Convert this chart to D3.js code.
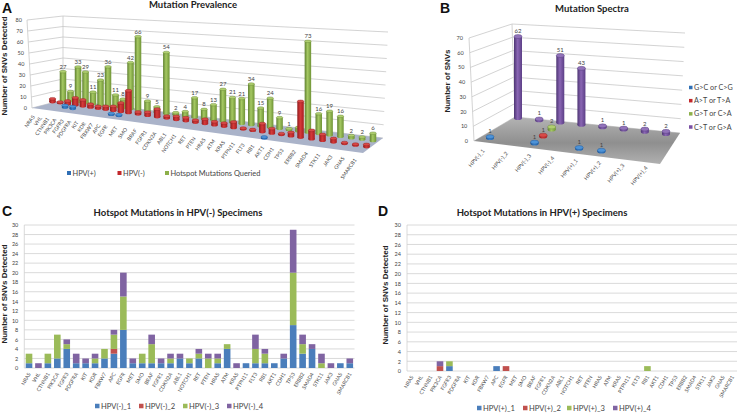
<!DOCTYPE html>
<html><head><meta charset="utf-8">
<script src="https://cdn.jsdelivr.net/npm/d3@7/dist/d3.min.js"></script>
<style>html,body{margin:0;background:#fff}svg{display:block}text{font-family:Lato,"Open Sans",sans-serif}</style>
</head><body><svg id="c" width="738" height="413"></svg>
<script>
const genes = ["NRAS","VHL","CTNNB1","PIK3CA","FGFR3","PDGFRA","KIT","KDR","FBXW7","APC","EGFR","MET","SMO","BRAF","FGFR1","CDKN2A","ABL1","NOTCH1","RET","PTEN","HRAS","ATM","KRAS","PTPN11","FLT3","RB1","AKT1","CDH1","TP53","ERBB2","SMAD4","STK11","JAK3","GNAS","SMARCB1"];
const queried = [27,9,33,29,11,23,36,11,8,42,66,9,5,54,2,4,17,8,13,27,21,21,34,15,24,9,1,3,73,16,19,16,2,2,6];
const hideQueriedLabel = ["CDH1"];
const hpvNeg1 = [1,0,1,2,4,1,1,1,2,3,8,1,1,1,1,1,2,1,2,0,1,4,0,1,1,1,1,2,9,3,4,0,0,1,1];
const hpvNeg2 = [0,0,0,0,0,0,0,0,0,1,0,0,0,0,0,0,0,0,0,0,0,0,0,0,0,0,0,0,0,0,0,0,0,0,0];
const hpvNeg3 = [2,0,2,5,1,0,0,1,2,3,7,0,2,4,0,1,0,1,1,2,1,1,0,0,3,2,0,0,11,2,0,1,0,0,0];
const hpvNeg4 = [0,1,0,0,1,2,1,1,0,1,5,1,0,2,1,1,1,0,1,1,1,0,1,0,3,1,0,1,9,2,1,2,1,0,1];
const hpvPos1 = [0,0,0,0,1,0,0,0,0,1,0,0,0,0,0,0,0,0,0,0,0,0,0,0,0,0,0,0,0,0,0,0,0,0,0];
const hpvPos2 = [0,0,0,1,0,0,0,0,0,0,1,0,0,0,0,0,0,0,0,0,0,0,0,0,0,0,0,0,0,0,0,0,0,0,0];
const hpvPos3 = [0,0,0,0,1,0,0,0,0,0,0,0,0,0,0,0,0,0,0,0,0,0,0,0,0,1,0,0,0,0,0,0,0,0,0];
const hpvPos4 = [0,0,0,1,0,0,0,0,0,0,0,0,0,0,0,0,0,0,0,0,0,0,0,0,0,0,0,0,0,0,0,0,0,0,0];
const specimens = ["HPV(-)_1","HPV(-)_2","HPV(-)_3","HPV(-)_4","HPV(+)_1","HPV(+)_2","HPV(+)_3","HPV(+)_4"];
const spectraGC = [1,0,1,0,1,1,0,0];
const spectraAT = [0,0,1,0,0,0,0,0];
const spectraGT = [0,0,2,0,0,0,0,0];
const spectraCT = [62,1,51,43,1,1,2,2];
const ticksA = [0,10,20,30,40,50,60,70,80];
const ticksB = [0,10,20,30,40,50,60,70];
const ticksStack = d3.range(0,31,2);

const cyl3d={blue:["#1f5fa8","#3f86d0","#184f8e","#4d93d8"],red:["#a81f22","#d63a3a","#8e1a1c","#d84a48"],green:["#6f9436","#a6c963","#5f8030","#b0cf70"],purple:["#5c3f86","#8a66b4","#4d3573","#9273ba"]};

const svg=d3.select("#c");
const defs=svg.append("defs");
Object.entries(cyl3d).forEach(([k,v])=>{
  const g=defs.append("linearGradient").attr("id","g-"+k);
  g.append("stop").attr("offset","0").attr("stop-color",v[2]);
  g.append("stop").attr("offset",".45").attr("stop-color",v[1]);
  g.append("stop").attr("offset","1").attr("stop-color",v[0]);
});
const fb=defs.append("linearGradient").attr("id","floorB").attr("x1",0).attr("y1",0).attr("x2",0).attr("y2",1);
fb.append("stop").attr("offset","0").attr("stop-color","#b4b4b4");
fb.append("stop").attr("offset",".55").attr("stop-color","#8f8f8f");
fb.append("stop").attr("offset","1").attr("stop-color","#b0b0b0");

function txt(x,y,s,o={}){
  const t=svg.append("text").attr("x",x).attr("y",y).text(s)
    .attr("font-size",o.size||6).attr("fill",o.fill||"#444")
    .attr("text-anchor",o.anchor||"middle");
  if(o.bold)t.attr("font-weight",700);
  if(o.family)t.style("font-family",o.family);
  if(o.rot!=null)t.attr("transform",`rotate(${o.rot} ${x} ${y})`);
  return t;
}
const ARIAL='"Liberation Sans",sans-serif';
txt(2,13,"A",{size:14,bold:true,fill:"#111",anchor:"start",family:ARIAL});
txt(440,13,"B",{size:14,bold:true,fill:"#111",anchor:"start",family:ARIAL});
txt(2,216,"C",{size:14,bold:true,fill:"#111",anchor:"start",family:ARIAL});
txt(378,216,"D",{size:14,bold:true,fill:"#111",anchor:"start",family:ARIAL});
txt(193,8,"Mutation Prevalence",{size:9.5,bold:true,fill:"#222"});
txt(592,12,"Mutation Spectra",{size:9.5,bold:true,fill:"#222"});
txt(178,216,"Hotspot Mutations in HPV(-) Specimens",{size:9.5,bold:true,fill:"#222"});
txt(542,216,"Hotspot Mutations in HPV(+) Specimens",{size:9.5,bold:true,fill:"#222"});
txt(7,66,"Number of SNVs Detected",{size:8,bold:true,fill:"#222",rot:-90,family:ARIAL});
txt(450,81,"Number of SNVs",{size:8,bold:true,fill:"#222",rot:-90,family:ARIAL});
txt(7,294,"Number of SNVs Detected",{size:8,bold:true,fill:"#222",rot:-90,family:ARIAL});
txt(388,295,"Number of SNVs Detected",{size:8,bold:true,fill:"#222",rot:-90,family:ARIAL});

function walls(ticks,vMax,L0,L1,C0,C1,R0,R1,labelDx){
  const lerp=(a,b)=>d3.scaleLinear([0,vMax],[a,b]);
  const lx=lerp(L0[0],L1[0]),ly=lerp(L0[1],L1[1]),cx=lerp(C0[0],C1[0]),cy=lerp(C0[1],C1[1]),rx=lerp(R0[0],R1[0]),ry=lerp(R0[1],R1[1]);
  const line=d3.line();
  ticks.forEach(v=>{
    svg.append("path").attr("d",line([[lx(v),ly(v)],[cx(v),cy(v)],[rx(v),ry(v)]])).attr("fill","none").attr("stroke","#c8c8c8").attr("stroke-width",.8);
    txt(lx(v)-labelDx,ly(v)+2,v,{size:5.5,anchor:"end"});
  });
  svg.append("path").attr("d",line([[L0[0],L0[1]],[L1[0],L1[1]]])).attr("stroke","#c8c8c8").attr("stroke-width",.8);
  svg.append("path").attr("d",line([[C0[0],C0[1]],[C1[0],C1[1]]])).attr("stroke","#c8c8c8").attr("stroke-width",.8);
}
function cylinder(x,y,h,w,ry,k){
  const g=svg.append("g"),c=cyl3d[k];
  g.append("ellipse").attr("cx",x).attr("cy",y).attr("rx",w/2).attr("ry",ry).attr("fill",`url(#g-${k})`);
  g.append("rect").attr("x",x-w/2).attr("y",y-h).attr("width",w).attr("height",h).attr("fill",`url(#g-${k})`);
  g.append("ellipse").attr("cx",x).attr("cy",y-h).attr("rx",w/2).attr("ry",ry).attr("fill",c[3]).attr("stroke",c[2]).attr("stroke-width",.4);
}

/* ---------- Panel A ---------- */
walls(ticksA,80,[32,108],[27,20],[63,100],[63,16],[383,138],[388,32],5);
svg.append("path").attr("d",d3.line()([[32,108],[63,100],[383,138],[363,153]])+"Z").attr("fill","#aab3c9");
const iA=d3.scaleLinear([0,10,28,34],[0,.242,.79,1]);
const nearX=d3.scaleLinear([0,1],[42,360]),farX=d3.scaleLinear([0,1],[63,373]);
const nearY=d3.scaleLinear([0,1],[104,153]),farY=d3.scaleLinear([0,1],[100,141]);
const hA=d3.scaleLinear([0,1],[1.05,1.3]);
function posA(i,d){const t=iA(i);return [nearX(t)+(farX(t)-nearX(t))*d,nearY(t)+(farY(t)-nearY(t))*d];}
genes.forEach((g,i)=>{
  const [x,y]=posA(i,1),h=queried[i]*hA(iA(i));
  cylinder(x,y,h,6.5,1.3,"green");
  if(!hideQueriedLabel.includes(g))txt(x,y-h-3,queried[i]);
});
const negTotal=genes.map((_,i)=>hpvNeg1[i]+hpvNeg2[i]+hpvNeg3[i]+hpvNeg4[i]);
const posTotal=genes.map((_,i)=>hpvPos1[i]+hpvPos2[i]+hpvPos3[i]+hpvPos4[i]);
genes.forEach((g,i)=>{const [x,y]=posA(i,.5);cylinder(x,y,negTotal[i]*hA(iA(i)),6.5,1.4,"red");});
genes.forEach((g,i)=>{if(posTotal[i]){const [x,y]=posA(i,0);cylinder(x,y,posTotal[i]*hA(iA(i)),6.5,1.4,"blue");}});
const labAx=d3.scaleLinear([0,10,28,34],[35,108,284,357]);
const labAy=d3.scaleLinear([35,357],[117,160]);
genes.forEach((g,i)=>{const x=labAx(i);txt(x,labAy(x),g,{size:5.2,anchor:"end",rot:-55});});
function legend(items,y,size,sq){
  items.forEach(([label,col,sx])=>{
    svg.append("rect").attr("x",sx).attr("y",y-sq/2).attr("width",sq).attr("height",sq).attr("fill",col);
    txt(sx+sq+1.5,y+size*.36,label,{size,anchor:"start",fill:"#444"});
  });
}
legend([["HPV(+)","#2f6fb5",67],["HPV(-)","#c2282c",117.5],["Hotspot Mutations Queried","#8db04a",165]],173,7.4,4);

/* ---------- Panel B ---------- */
walls(ticksB,70,[474,141],[469,38],[515,117],[512,24],[680,133],[685,33],6);
svg.append("path").attr("d",d3.line()([[474,141],[515,117],[680,133],[660,164]])+"Z").attr("fill","url(#floorB)");
const iB=d3.scaleLinear([0,7],[0,1]);
const bNearX=d3.scaleLinear([0,1],[490,646]),bFarX=d3.scaleLinear([0,1],[518,666]);
const bNearY=d3.scaleLinear([0,1],[138,157]),bFarY=d3.scaleLinear([0,1],[118,134]);
const hB=d3.scaleLinear([0,70],[0,92]);
function posB(i,d){const t=iB(i);return [bNearX(t)+(bFarX(t)-bNearX(t))*d,bNearY(t)+(bFarY(t)-bNearY(t))*d];}
[[spectraCT,1,"purple"],[spectraGT,2/3,"green"],[spectraAT,1/3,"red"],[spectraGC,0,"blue"]].forEach(([vals,d,k])=>{
  vals.forEach((v,i)=>{
    if(!v)return;
    const [x,y]=posB(i,d),h=hB(v);
    cylinder(x,y,h,8,2,k);
    txt(x,y-h-3.5,v);
  });
});
const labBx=d3.scaleLinear([0,7],[485,648]);
const labBy=d3.scaleLinear([0,7],[151,168]);
specimens.forEach((s,i)=>txt(labBx(i),labBy(i),s,{size:5.5,anchor:"end",rot:-50}));
[["G>C or C>G","#2f6fb5"],["A>T or T>A","#c2282c"],["G>T or C>A","#8db04a"],["C>T or G>A","#7a4fa3"]].forEach(([l,c],i)=>{
  const y=d3.scaleLinear([0,3],[87.5,127])(i);
  legend([[l,c,689]],y,7.2,3.5);
});

/* ---------- Panels C, D ---------- */
function stacked(series,names,L,R,T,B,cols,legendX,legendY){
  const x=d3.scaleBand(genes,[L,R]).paddingInner(.3).paddingOuter(.15);
  const y=d3.scaleLinear([0,30],[B,T]);
  const ax=svg.append("g").attr("transform",`translate(${L},0)`).call(d3.axisLeft(y).tickValues(ticksStack).tickSize(0).tickPadding(6));
  ax.select(".domain").remove();
  ax.selectAll("text").attr("font-size",5.5).attr("fill","#444");
  svg.append("g").selectAll("line").data(ticksStack).join("line")
    .attr("x1",L).attr("x2",R).attr("y1",d=>y(d)).attr("y2",d=>y(d)).attr("stroke","#d0d0d0").attr("stroke-width",.8);
  svg.append("line").attr("x1",L).attr("x2",L).attr("y1",T).attr("y2",B).attr("stroke","#d0d0d0").attr("stroke-width",.8);
  const rows=genes.map((g,i)=>{const o={gene:g};names.forEach((n,j)=>o[n]=series[j][i]);return o;});
  const st=d3.stack().keys(names)(rows);
  svg.append("g").selectAll("g").data(st).join("g").attr("fill",(d,i)=>cols[i])
    .selectAll("rect").data(d=>d).join("rect")
    .attr("x",d=>x(d.data.gene)).attr("width",x.bandwidth())
    .attr("y",d=>y(d[1])).attr("height",d=>y(d[0])-y(d[1]));
  genes.forEach(g=>{
    const cx=x(g)+x.bandwidth()/2+2;
    txt(cx,B+6,g,{size:5.2,anchor:"end",rot:-60});
  });
  legend(names.map((n,i)=>[n,cols[i],legendX[i]]),legendY,7.6,4.5);
}
const stackCols=["#4a7ebb","#c0504d","#9bbb59","#8064a2"];
stacked([hpvNeg1,hpvNeg2,hpvNeg3,hpvNeg4],specimens.slice(0,4),24.3,354.5,225,368,stackCols,[95,139,183,227],406);
stacked([hpvPos1,hpvPos2,hpvPos3,hpvPos4],specimens.slice(4),407,737,225,371,stackCols,[477,523,567,613],408);
</script></body></html>
